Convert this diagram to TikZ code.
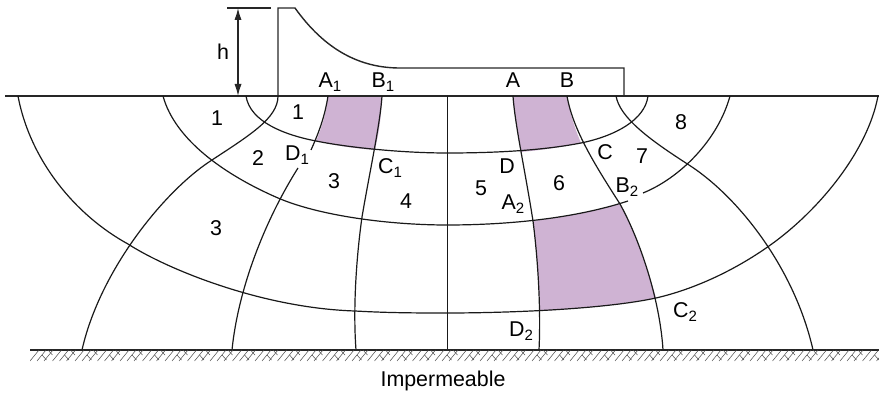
\documentclass[tikz,border=0pt]{standalone}
\usepackage{fontspec}
\setmainfont{Liberation Sans}
\usetikzlibrary{arrows.meta}
\definecolor{seep}{HTML}{CFB3D3}
\tikzset{
    lbl/.style={inner sep=0pt,font=\fontsize{10.7}{12}\selectfont},
    net/.style={draw=black!90,line width=0.6pt},
    wall/.style={draw=black!85,line width=0.7pt}
}
\newcommand{\sub}[1]{\raisebox{-2.2pt}{\fontsize{7.5}{8}\selectfont #1}}

\begin{document}
\begin{tikzpicture}[x=0.5pt,y=-0.5pt]
    \useasboundingbox (0,0) rectangle (879,395);

    % corners of the shaded squares
    \coordinate (a1) at (328,96);
    \coordinate (b1) at (382,96);
    \coordinate (c1) at (375,150);
    \coordinate (d1) at (316,141);
    \coordinate (a) at (513,96);
    \coordinate (b) at (567,96);
    \coordinate (c) at (581,143);
    \coordinate (d) at (521,152);
    \coordinate (a2) at (533,221);
    \coordinate (b2) at (620,204);
    \coordinate (c2) at (656,298);
    \coordinate (d2) at (540,311);

    \fill[seep] (a1) -- (b1) to[bend left=5] (c1) to[bend left=4] (d1) to[bend right=8] (a1);
    \fill[seep] (a) -- (b) to[bend right=6] (c) to[bend left=3] (d) to[bend left=3] (a);
    \fill[seep] (a2) to[bend right=3] (b2) .. controls (633,228) and (646,262) .. (c2) to[bend left=3] (d2) to[bend right=2] (a2);

    % ground and structure
    \coordinate (gl) at (5,96);
    \coordinate (gr) at (879,96);
    \coordinate (pile) at (278,96);
    \coordinate (piletop) at (278,8);
    \coordinate (crest) at (295,8);
    \coordinate (toe) at (400,68);
    \coordinate (apron) at (624,68);
    \coordinate (apronb) at (624,96);
    \draw[wall] (gl) -- (gr);
    \draw[wall] (pile) -- (piletop) -- (crest) .. controls (325,50) and (360,68) .. (toe) -- (apron) -- (apronb);

    % head
    \coordinate (hl) at (227,8);
    \coordinate (hr) at (271,8);
    \coordinate (ht) at (238,8);
    \coordinate (hb) at (238,96);
    \draw[wall] (hl) -- (hr);
    \draw[wall,{Latex[length=6pt,width=3.6pt]}-{Latex[length=6pt,width=3.6pt]}] (ht) -- (hb);

    % flow net, cross lines
    \draw[net] (246,96) .. controls (250,122) and (285,135) .. (d1)
        .. controls (345,147) and (400,153) .. (447,153)
        .. controls (490,153) and (540,151) .. (c)
        .. controls (615,136) and (645,120) .. (648,96);
    \draw[net] (163,96) .. controls (175,140) and (225,175) .. (278,198)
        .. controls (320,216) and (390,225) .. (447,225)
        .. controls (500,225) and (570,220) .. (628,201);
    \draw[net] (643,193) .. controls (680,178) and (718,140) .. (730,96);
    \draw[net] (18,96) .. controls (30,160) and (75,215) .. (128,244)
        .. controls (165,268) and (260,308) .. (355,311)
        .. controls (390,313) and (420,313) .. (447,313)
        .. controls (500,313) and (600,310) .. (c2)
        .. controls (695,289) and (735,270) .. (769,246)
        .. controls (820,210) and (868,150) .. (878,96);

    % flow net, long lines
    \draw[net] (pile) .. controls (278,118) and (250,135) .. (212,160)
        .. controls (165,190) and (100,270) .. (82,350);
    \draw[net] (a1) .. controls (325,115) and (320,130) .. (311,150);
    \draw[net] (298,168) .. controls (264,222) and (238,290) .. (232,350);
    \draw[net] (b1) .. controls (380,125) and (370,170) .. (362,217)
        .. controls (356,260) and (353,310) .. (356,350);
    \draw[net] (447.4,96) -- (447.4,350);
    \draw[net] (a) .. controls (515,125) and (525,170) .. (a2)
        .. controls (538,260) and (541,310) .. (539,350);
    \draw[net] (b) .. controls (573,130) and (595,165) .. (b2)
        .. controls (640,240) and (660,300) .. (663,350);
    \draw[net] (616,96) .. controls (620,118) and (650,140) .. (689,165)
        .. controls (740,198) and (795,270) .. (813,350);

    % impermeable base
    \coordinate (bl) at (30,350);
    \coordinate (br) at (879,350);
    \draw[wall] (bl) -- (br);
    \begin{scope}
    \clip (30,350) rectangle (879,362);
    \foreach \x in {30,52.5,...,870} {
        \draw[black!70,line width=0.25pt] (\x+9,350) -- (\x,361);
        \draw[black!70,line width=0.25pt] (\x+16,350) -- (\x+7,361);
        \draw[black!70,line width=0.25pt] (\x+23,350) -- (\x+14,361);
        \draw[black!70,line width=0.25pt] (\x+12,355) -- (\x+16.5,360);
        \draw[black!70,line width=0.25pt] (\x+18,350) -- (\x+22.5,355);
    }
    \end{scope}

    % labels
    \node[lbl] (hlab) at (223,52) {h};
    \node[lbl] (la1) at (330,82) {A\sub{1}};
    \node[lbl] (lb1) at (383,82) {B\sub{1}};
    \node[lbl] (la) at (513,80) {A};
    \node[lbl] (lb) at (567,80) {B};
    \node[lbl] (n1a) at (217,118) {1};
    \node[lbl] (n1b) at (298,112) {1};
    \node[lbl] (n2) at (258,158) {2};
    \node[lbl] (n3a) at (334,181) {3};
    \node[lbl] (ld1) at (297,155) {D\sub{1}};
    \node[lbl] (lc1) at (390,168) {C\sub{1}};
    \node[lbl] (n4) at (406,201) {4};
    \node[lbl] (n5) at (481,188) {5};
    \node[lbl] (ld) at (507,166) {D};
    \node[lbl] (la2) at (513,204) {A\sub{2}};
    \node[lbl] (n6) at (559,183) {6};
    \node[lbl] (lc) at (605,152) {C};
    \node[lbl] (n7) at (642,156) {7};
    \node[lbl] (lb2) at (627,187) {B\sub{2}};
    \node[lbl] (n8) at (681,122) {8};
    \node[lbl] (n3b) at (216,228) {3};
    \node[lbl] (lc2) at (685,312) {C\sub{2}};
    \node[lbl] (ld2) at (521,331) {D\sub{2}};
    \node[lbl] (base) at (443,381) {Impermeable};
\end{tikzpicture}
\end{document}
